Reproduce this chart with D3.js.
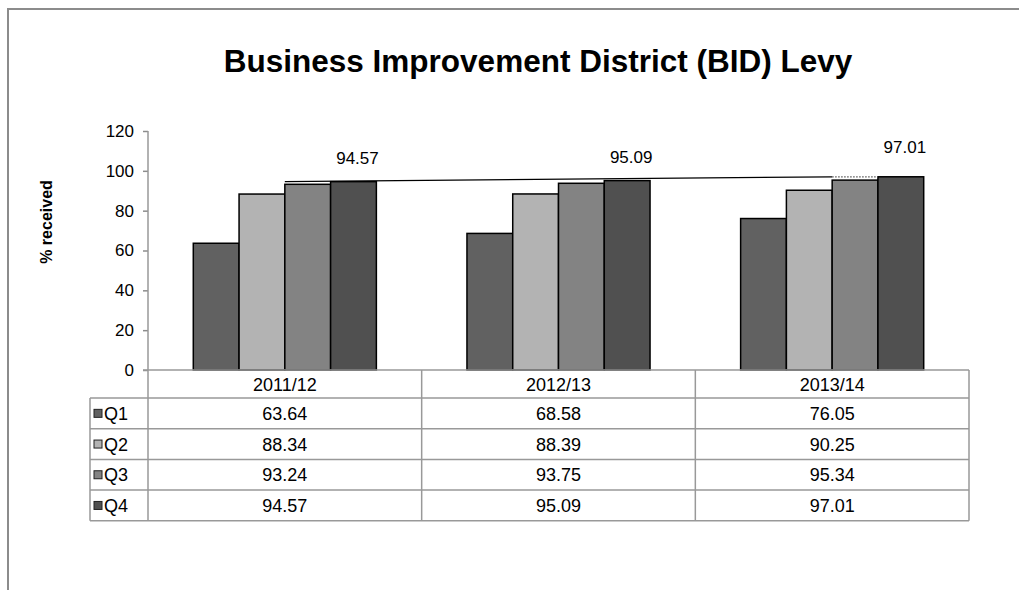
<!DOCTYPE html>
<html><head><meta charset="utf-8">
<script src="https://cdn.jsdelivr.net/npm/d3@7"></script>
<style>body{margin:0;background:#fff}svg{display:block;font-family:"Liberation Sans",Arial,sans-serif}</style>
</head><body>
<svg id="c" width="1019" height="590"></svg>
<script>
const categories = ["2011/12","2012/13","2013/14"];
const seriesNames = ["Q1","Q2","Q3","Q4"];
const q1 = [63.64, 68.58, 76.05];
const q2 = [88.34, 88.39, 90.25];
const q3 = [93.24, 93.75, 95.34];
const q4 = [94.57, 95.09, 97.01];
const yTicks = [0,20,40,60,80,100,120];
const colors = ["#616161","#b3b3b3","#838383","#505050"];
const series = [q1,q2,q3,q4];

(function(){
const svg = d3.select("#c");
const pLeft = 148, pRight = 969, pTop = 131, base = 370;
const headH = 28, rowH = 30.7;

svg.append("rect").attr("x",8).attr("y",9).attr("width",1030).attr("height",620)
  .attr("fill","none").attr("stroke","#8c8c8c").attr("stroke-width",2);

svg.append("text").attr("x",538).attr("y",72).attr("text-anchor","middle")
  .attr("font-size",31.5).attr("font-weight","bold").attr("fill","#000")
  .text("Business Improvement District (BID) Levy");

const y = d3.scaleLinear().domain([0,120]).range([base, pTop]);
const xCat = d3.scaleBand().domain(categories).range([pLeft,pRight]).paddingInner(0.331).paddingOuter(0.1655);
const xCol = d3.scaleBand().domain(categories).range([pLeft,pRight]);
const xSer = d3.scaleBand().domain(seriesNames).range([0,xCat.bandwidth()]);

const yAxis = d3.axisLeft(y).tickValues(yTicks).tickSize(5).tickPadding(9);
const ga = svg.append("g").attr("transform",`translate(${pLeft},0)`).call(yAxis);
ga.select(".domain").remove();
ga.selectAll("line").attr("stroke","#8c8c8c").attr("stroke-width",1.5);
ga.selectAll("text").attr("font-size",17).attr("fill","#000").attr("font-family","Liberation Sans, Arial, sans-serif");

svg.append("text").attr("transform","translate(52,222) rotate(-90)").attr("text-anchor","middle")
  .attr("font-size",16).attr("font-weight","bold").text("% received");

series.forEach((vals,si)=>{
  svg.append("g").selectAll("rect").data(vals).join("rect")
    .attr("x",(d,i)=>xCat(categories[i])+xSer(seriesNames[si]))
    .attr("y",d=>y(d)).attr("width",xSer.bandwidth()).attr("height",d=>base-y(d))
    .attr("fill",colors[si]).attr("stroke","#000").attr("stroke-width",1.5);
});

const cx = i => xCat(categories[i]) + xCat.bandwidth()/2;
const n = q4.length-1;
svg.append("line").attr("x1",cx(0)).attr("y1",y(q4[0])).attr("x2",cx(n)).attr("y2",y(q4[n]))
  .attr("stroke","#000").attr("stroke-width",1.3);
svg.append("line").attr("x1",cx(n)).attr("y1",y(q4[n])).attr("x2",xCat(categories[n])+xSer("Q4")).attr("y2",y(q4[n]))
  .attr("stroke","#555").attr("stroke-width",1.3).attr("stroke-dasharray","1.5,1.5");

svg.append("g").selectAll("text").data(q4).join("text")
  .attr("x",(d,i)=>xCat(categories[i])+xSer("Q4")+xSer.bandwidth()/2+4)
  .attr("y",(d,i)=>y(d)-(i===n?24:18)).attr("text-anchor","middle")
  .attr("font-size",17).text(d=>d.toFixed(2));

const grid = "#999";
const tLeft = 90;
const rowTop = r => r===0 ? base : base+headH+rowH*(r-1);
const tBottom = rowTop(5);
const g = svg.append("g").attr("stroke",grid).attr("stroke-width",1.5).attr("fill","none");
g.append("line").attr("x1",pLeft-5).attr("x2",pRight).attr("y1",base).attr("y2",base);
for(let r=1;r<=5;r++){
  g.append("line").attr("x1",tLeft).attr("x2",pRight).attr("y1",rowTop(r)).attr("y2",rowTop(r));
}
g.append("line").attr("x1",pLeft).attr("x2",pLeft).attr("y1",pTop).attr("y2",tBottom);
g.append("line").attr("x1",tLeft).attr("x2",tLeft).attr("y1",rowTop(1)).attr("y2",tBottom);
categories.forEach(c=>{
  const xr = xCol(c)+xCol.bandwidth();
  g.append("line").attr("x1",xr).attr("x2",xr).attr("y1",base).attr("y2",tBottom);
});
svg.append("g").selectAll("text").data(categories).join("text")
  .attr("x",d=>xCol(d)+xCol.bandwidth()/2).attr("y",base+headH/2+6.5).attr("text-anchor","middle")
  .attr("font-size",18).text(d=>d);
series.forEach((vals,si)=>{
  const yy = rowTop(si+1);
  svg.append("rect").attr("x",tLeft+4).attr("y",yy+rowH/2-4).attr("width",8).attr("height",8)
    .attr("fill",colors[si]).attr("stroke","#222").attr("stroke-width",1);
  svg.append("text").attr("x",tLeft+14).attr("y",yy+rowH/2+6.5).attr("font-size",18).text(seriesNames[si]);
  svg.append("g").selectAll("text").data(vals).join("text")
    .attr("x",(d,i)=>xCol(categories[i])+xCol.bandwidth()/2).attr("y",yy+rowH/2+6.5)
    .attr("text-anchor","middle").attr("font-size",18).text(d=>d.toFixed(2));
});
})();
</script>
</body></html>
